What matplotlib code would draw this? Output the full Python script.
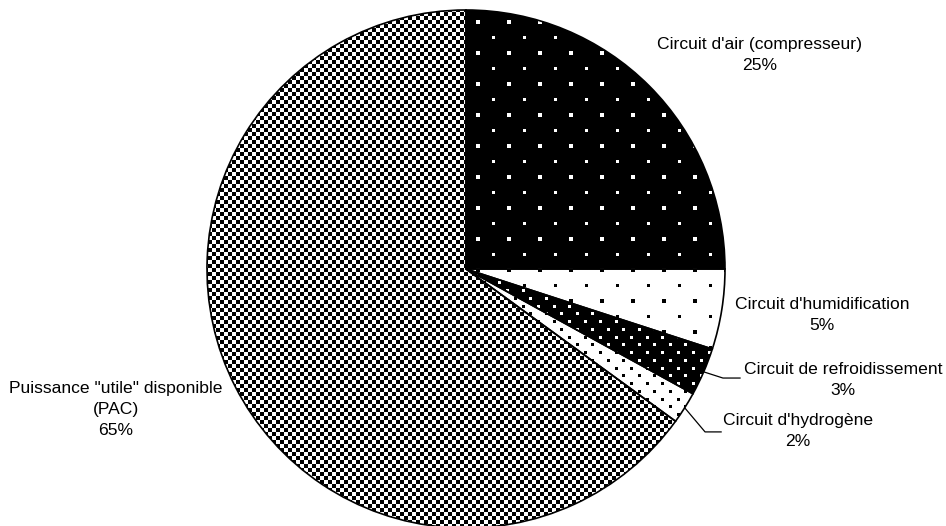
import numpy as np
import matplotlib
matplotlib.use("Agg")
import matplotlib.pyplot as plt

plt.rcParams['font.family'] = ['Liberation Sans', 'DejaVu Sans']

labels = ["Circuit d'air (compresseur)",
          "Circuit d'humidification",
          "Circuit de refroidissement",
          "Circuit d'hydrogène",
          'Puissance "utile" disponible\n(PAC)']
values = [25, 5, 3, 2, 65]

W, H = 946, 526
fig = plt.figure(figsize=(W / 100, H / 100), dpi=100)

# pie of radius 1 centred at pixel (466, 269 from top)
cx, cy, r = 466, 257, 259
ax = fig.add_axes([(cx - r) / W, (cy - r) / H, 2 * r / W, 2 * r / H])
wedges, _ = ax.pie(values, startangle=90, counterclock=False,
                   wedgeprops=dict(facecolor='none', edgecolor='black', linewidth=1.2))
ax.set_xlim(-1, 1)
ax.set_ylim(-1, 1)
ax.set_aspect('auto')
ax.patch.set_visible(False)

# pixel fill patterns (1 = white, 0 = black)
yy, xx = np.mgrid[0:H, 0:W].astype(float)


def dots(period, size, ox=0, oy=0):
    a = (((xx - ox) % period) < size) & (((yy - oy) % period) < size)
    b = (((xx - ox + period / 2) % period) < size) & (((yy - oy + period / 2) % period) < size)
    return a | b


sparse = dots(31, 3.5, ox=476, oy=51)
dense = dots(15.5, 3, ox=2, oy=2)
checker = ((xx // 4 + yy // 4) % 2).astype(float)

patterns = [
    np.where(sparse, 1.0, 0.0),   # white dots on black
    np.where(sparse, 0.0, 1.0),   # black dots on white
    np.where(dense, 1.0, 0.0),
    np.where(dense, 0.0, 1.0),
    checker,
]

for w, pat in zip(wedges, patterns):
    im = fig.figimage(pat, cmap='gray', vmin=0, vmax=1, origin='upper', zorder=1)
    im.set_clip_path(w)
for w in wedges:
    w.set_zorder(3)
ax.set_zorder(2)

fs = 12.6
ls = 1.5
# labels (data units of the unit pie)
label_pos = [(1.135, 0.826), (1.375, -0.178), (1.456, -0.429),
             (1.282, -0.625), (-1.351, -0.544)]
for lab, v, (tx, ty) in zip(labels, values, label_pos):
    ax.text(tx, ty, f"{lab}\n{v}%", ha='center', va='center',
            fontsize=fs, linespacing=ls)

# leader lines for the two thin slices
def mid_edge(i):
    start = 90 - 360 * sum(values[:i]) / 100
    ang = np.deg2rad(start - 180 * values[i] / 100)
    return np.cos(ang), np.sin(ang)

for i, elbow, end in [(2, (0.992, -0.421), (1.058, -0.421)),
                      (3, (0.923, -0.629), (0.985, -0.629))]:
    x0, y0 = mid_edge(i)
    ax.plot([x0, elbow[0], end[0]], [y0, elbow[1], end[1]], color='black',
            linewidth=0.9, clip_on=False)

fig.savefig("out.png", dpi=100)
